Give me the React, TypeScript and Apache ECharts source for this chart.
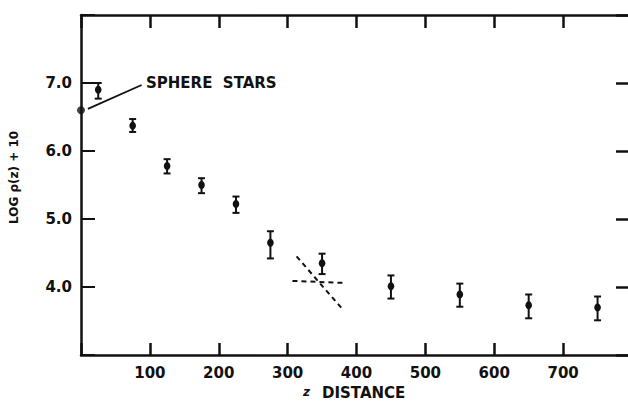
import React, { useEffect, useRef } from "react";
import * as echarts from "echarts";

// Distance above the plane (pc) and log density + 10 with its error range
const zValues = [25, 75, 125, 175, 225, 275, 350, 450, 550, 650, 750];
const logRho = [6.9, 6.37, 5.78, 5.5, 5.22, 4.65, 4.35, 4.01, 3.89, 3.73, 3.7];
const errLow = [6.77, 6.28, 5.67, 5.38, 5.09, 4.42, 4.19, 3.83, 3.71, 3.54, 3.51];
const errHigh = [7.0, 6.47, 5.88, 5.6, 5.33, 4.82, 4.49, 4.17, 4.05, 3.89, 3.86];

// Sphere-star density, plotted at z = 0
const sphereStars = [[0, 6.6]];

// Dashed guide lines crossing near z = 350
const guideFlat = [[307, 4.09], [383, 4.06]];
const guideSteep = [[313, 4.45], [380, 3.67]];

// Leader line from the sphere-star point to its label
const leader = [[10, 6.62], [88, 6.97]];

const xTicks = [100, 200, 300, 400, 500, 600, 700];
const yTicks = [4, 5, 6, 7];

const INK = "#111";
const FONT = "DejaVu Sans";

export default function App() {
  const ref = useRef<HTMLDivElement>(null);

  useEffect(() => {
    if (!ref.current) return;
    document.body.style.overflow = "hidden";
    const chart = echarts.init(ref.current, null, { renderer: "svg" });

    const errData = zValues.map((z, i) => [z, errLow[i], errHigh[i], logRho[i]]);

    const tickLabel = {
      color: INK,
      fontFamily: FONT,
      fontWeight: "bold" as const,
      fontSize: 15,
    };

    chart.setOption({
      animation: false,
      backgroundColor: "#fff",
      grid: { left: 81, right: 8, top: 15, bottom: 48 },
      xAxis: [
        {
          type: "value",
          position: "bottom",
          min: 0,
          max: 800,
          interval: 100,
          axisLine: { show: true, onZero: false, lineStyle: { color: INK, width: 2.5 } },
          axisTick: { show: true, inside: true, length: 12, lineStyle: { color: INK, width: 2.5 } },
          splitLine: { show: false },
          axisLabel: {
            ...tickLabel,
            margin: 10,
            formatter: (v: number) => (xTicks.includes(v) ? String(v) : ""),
          },
        },
        {
          type: "value",
          position: "top",
          min: 0,
          max: 800,
          interval: 100,
          axisLine: { show: true, onZero: false, lineStyle: { color: INK, width: 2.5 } },
          axisTick: { show: true, inside: true, length: 13, lineStyle: { color: INK, width: 2.5 } },
          splitLine: { show: false },
          axisLabel: { show: false },
        },
      ],
      yAxis: [
        {
          type: "value",
          position: "left",
          min: 3,
          max: 8,
          interval: 1,
          axisLine: { show: true, onZero: false, lineStyle: { color: INK, width: 2.5 } },
          axisTick: { show: true, inside: true, length: 14, lineStyle: { color: INK, width: 2 } },
          splitLine: { show: false },
          axisLabel: {
            ...tickLabel,
            margin: 9,
            formatter: (v: number) => (yTicks.includes(v) ? v.toFixed(1) : ""),
          },
        },
        {
          type: "value",
          position: "right",
          min: 3,
          max: 8,
          interval: 1,
          axisLine: { show: true, onZero: false, lineStyle: { color: INK, width: 2.5 } },
          axisTick: { show: true, inside: true, length: 16, lineStyle: { color: INK, width: 2.5 } },
          splitLine: { show: false },
          axisLabel: { show: false },
        },
      ],
      series: [
        {
          type: "custom",
          data: errData,
          renderItem: (_params: any, api: any) => {
            const x = api.value(0);
            const lo = api.coord([x, api.value(1)]);
            const hi = api.coord([x, api.value(2)]);
            const mid = api.coord([x, api.value(3)]);
            const cap = 3.5;
            const stroke = { stroke: INK, lineWidth: 2 };
            return {
              type: "group",
              children: [
                { type: "line", shape: { x1: lo[0], y1: lo[1], x2: hi[0], y2: hi[1] }, style: stroke },
                { type: "line", shape: { x1: lo[0] - cap, y1: lo[1], x2: lo[0] + cap, y2: lo[1] }, style: stroke },
                { type: "line", shape: { x1: hi[0] - cap, y1: hi[1], x2: hi[0] + cap, y2: hi[1] }, style: stroke },
                { type: "ellipse", shape: { cx: mid[0], cy: mid[1], rx: 3.3, ry: 4 }, style: { fill: INK } },
              ],
            };
          },
          z: 5,
        },
        {
          type: "scatter",
          data: sphereStars,
          symbol: "circle",
          symbolSize: 8,
          itemStyle: { color: INK },
          z: 6,
        },
        {
          type: "line",
          data: guideFlat,
          symbol: "none",
          lineStyle: { color: INK, width: 2, type: [5, 4] },
        },
        {
          type: "line",
          data: guideSteep,
          symbol: "none",
          lineStyle: { color: INK, width: 2, type: [5, 4] },
        },
        {
          type: "line",
          data: leader,
          symbol: "none",
          lineStyle: { color: INK, width: 1.8 },
        },
      ],
      graphic: [
        {
          type: "text",
          left: 146,
          top: 75,
          style: {
            text: "SPHERE  STARS",
            fill: INK,
            font: `bold 15px '${FONT}'`,
          },
        },
        {
          type: "text",
          x: 14,
          y: 224,
          rotation: Math.PI / 2,
          style: {
            text: "LOG ρ(z) + 10",
            fill: INK,
            font: `bold 12px '${FONT}'`,
            align: "left",
            verticalAlign: "middle",
          },
        },
        {
          type: "text",
          left: 303,
          top: 386,
          style: {
            text: "z",
            fill: INK,
            font: `italic bold 12px '${FONT}'`,
          },
        },
        {
          type: "text",
          left: 322,
          top: 385,
          style: {
            text: "DISTANCE",
            fill: INK,
            font: `bold 15px '${FONT}'`,
          },
        },
      ],
    });

    return () => chart.dispose();
  }, []);

  return (
    <div
      ref={ref}
      style={{ position: "fixed", left: 0, top: 0, width: 640, height: 403, background: "#fff" }}
    />
  );
}
